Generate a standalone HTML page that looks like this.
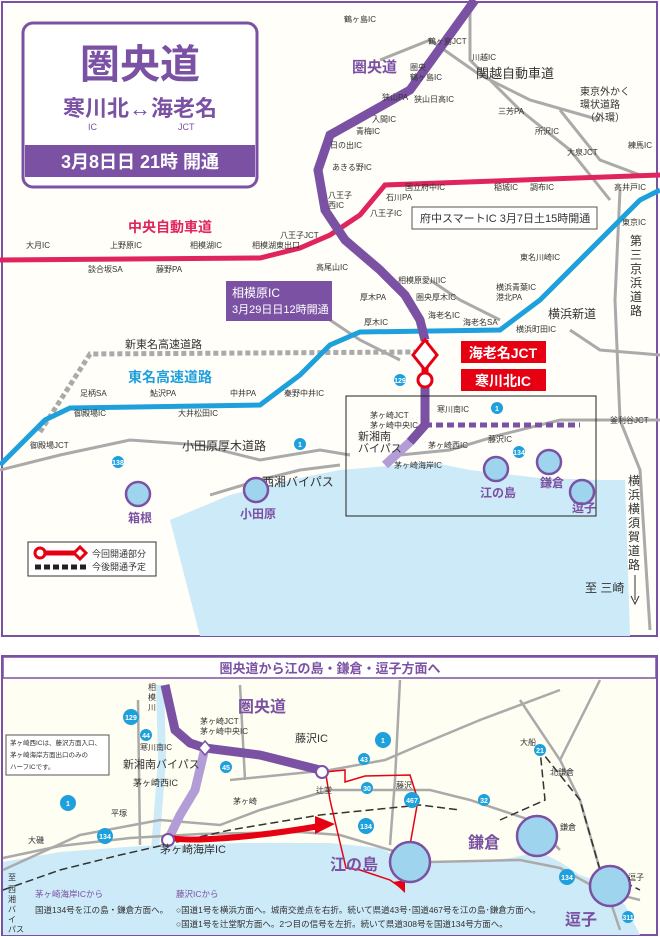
<!DOCTYPE html>
<html><head><meta charset="utf-8"><style>
body{margin:0;width:660px;height:937px;overflow:hidden;background:#fff}
svg{display:block}
text{font-family:"Liberation Sans","Noto Sans CJK JP",sans-serif}
</style></head><body>
<svg width="660" height="937" viewBox="0 0 660 937" xmlns="http://www.w3.org/2000/svg">
<rect width="660" height="937" fill="#fff"/>
<rect x="2" y="2" width="655" height="634" fill="#fffef8" stroke="#7b52a3" stroke-width="2"/>
<path d="M170,520 L230,495 L290,480 L340,470 L400,465 L430,462 L470,470 L540,478 L600,480 L625,480 L630,636 L200,636 Z" fill="#cdeaf8"/>
<g fill="none" stroke="#aaa" stroke-width="3">
<path d="M470,0 L470,60 L520,110 L570,150 L610,200"/>
<path d="M380,60 L430,40 L480,75 L530,100 L600,120"/>
<path d="M560,110 L600,160 L640,175"/>
<path d="M0,470 L60,455 L130,440 L200,445 L260,460 L320,450 L350,455"/>
<path d="M400,455 L450,450 L500,435 L560,420 L660,420"/>
<path d="M210,495 L260,480 L300,470 L340,465"/>
<path d="M620,190 L615,300 L620,420 L640,470 L650,630"/>
<path d="M570,330 L600,350 L660,355"/>
<path d="M430,280 L460,300 L500,320"/>
<path d="M330,320 L360,340 L400,360"/>
</g>
<path d="M40,432 L90,354 L415,352" fill="none" stroke="#aaa" stroke-width="5" stroke-dasharray="5,3"/>
<path d="M0,260 L260,258 L300,248 L330,235 L360,215 L385,185 L660,175" fill="none" stroke="#e0245e" stroke-width="5"/>
<path d="M0,465 L45,420 L70,408 L260,405 L300,375 L330,345 L360,332 L500,330 L540,300 L600,240 L640,200 L660,190" fill="none" stroke="#1ea0dc" stroke-width="5"/>
<path d="M475,0 L410,90 L330,135 L318,170 L325,210 L345,240 L380,270 L405,295 L420,320 L425,340" fill="none" stroke="#7b52a3" stroke-width="9"/>
<path d="M425,340 L425,385" fill="none" stroke="#e60012" stroke-width="7"/>
<path d="M425,385 L425,425 L410,442" fill="none" stroke="#7b52a3" stroke-width="9"/>
<path d="M410,442 L385,465" fill="none" stroke="#b39dd6" stroke-width="9"/>
<path d="M425,425 L470,425 L580,425" fill="none" stroke="#7b52a3" stroke-width="5" stroke-dasharray="7,4"/>
<path d="M425,340 L437,355 L425,370 L413,355 Z" fill="#fff" stroke="#e60012" stroke-width="3"/>
<circle cx="425" cy="380" r="7" fill="#fff" stroke="#e60012" stroke-width="3"/>
<rect x="346" y="396" width="250" height="120" fill="none" stroke="#222" stroke-width="1"/>
<rect x="461" y="341" width="85" height="22" fill="#e60012"/>
<text x="503" y="358" font-size="14" fill="#fff" text-anchor="middle" font-weight="bold">海老名JCT</text>
<rect x="461" y="369" width="85" height="22" fill="#e60012"/>
<text x="503" y="386" font-size="14" fill="#fff" text-anchor="middle" font-weight="bold">寒川北IC</text>
<rect x="226" y="281" width="106" height="40" fill="#7b52a3"/>
<text x="232" y="297" font-size="12" fill="#fff">相模原IC</text>
<text x="232" y="313" font-size="11" fill="#fff">3月29日日12時開通</text>
<rect x="412" y="207" width="185" height="22" fill="#fff" stroke="#555"/>
<text x="420" y="222" font-size="11" fill="#333">府中スマートIC 3月7日土15時開通</text>
<text x="128" y="232" font-size="14" fill="#e0245e" font-weight="bold">中央自動車道</text>
<text x="128" y="382" font-size="14" fill="#1ea0dc" font-weight="bold">東名高速道路</text>
<text x="125" y="348" font-size="11" fill="#333">新東名高速道路</text>
<text x="352" y="72" font-size="15" fill="#7b52a3" font-weight="bold">圏央道</text>
<text x="476" y="78" font-size="13" fill="#333">関越自動車道</text>
<text x="580" y="95" font-size="10" fill="#333">東京外かく</text>
<text x="580" y="108" font-size="10" fill="#333">環状道路</text>
<text x="585" y="121" font-size="10" fill="#333">（外環）</text>
<text x="548" y="318" font-size="12" fill="#333">横浜新道</text>
<text x="182" y="450" font-size="12" fill="#333">小田原厚木道路</text>
<text x="262" y="486" font-size="12" fill="#333">西湘バイパス</text>
<text x="358" y="440" font-size="11" fill="#333">新湘南</text>
<text x="358" y="452" font-size="11" fill="#333">バイパス</text>
<g font-size="8" fill="#333">
<text x="344" y="22">鶴ヶ島IC</text><text x="428" y="44">鶴ヶ島JCT</text><text x="472" y="60">川越IC</text>
<text x="410" y="70">圏央</text><text x="410" y="80">鶴ヶ島IC</text><text x="382" y="100">狭山PA</text><text x="414" y="102">狭山日高IC</text>
<text x="372" y="122">入間IC</text><text x="356" y="134">青梅IC</text><text x="330" y="148">日の出IC</text><text x="332" y="170">あきる野IC</text>
<text x="498" y="114">三芳PA</text><text x="535" y="134">所沢IC</text><text x="567" y="155">大泉JCT</text><text x="628" y="148">練馬IC</text>
<text x="405" y="190">国立府中IC</text><text x="494" y="190">稲城IC</text><text x="530" y="190">調布IC</text><text x="614" y="190">高井戸IC</text>
<text x="328" y="198">八王子</text><text x="328" y="208">西IC</text><text x="386" y="200">石川PA</text><text x="370" y="216">八王子IC</text>
<text x="280" y="238">八王子JCT</text><text x="252" y="248">相模湖東出口</text><text x="190" y="248">相模湖IC</text><text x="110" y="248">上野原IC</text>
<text x="26" y="248">大月IC</text><text x="88" y="272">談合坂SA</text><text x="156" y="272">藤野PA</text><text x="316" y="270">高尾山IC</text>
<text x="398" y="283">相模原愛川IC</text><text x="416" y="300">圏央厚木IC</text><text x="360" y="300">厚木PA</text><text x="428" y="318">海老名IC</text>
<text x="463" y="325">海老名SA</text><text x="520" y="260">東名川崎IC</text><text x="496" y="290">横浜青葉IC</text><text x="496" y="300">港北PA</text>
<text x="516" y="332">横浜町田IC</text><text x="622" y="225">東京IC</text><text x="364" y="325">厚木IC</text><text x="284" y="396">秦野中井IC</text>
<text x="230" y="396">中井PA</text><text x="150" y="396">鮎沢PA</text><text x="80" y="396">足柄SA</text><text x="74" y="416">御殿場IC</text>
<text x="178" y="416">大井松田IC</text><text x="30" y="448">御殿場JCT</text><text x="370" y="418">茅ヶ崎JCT</text><text x="370" y="428">茅ヶ崎中央IC</text>
<text x="437" y="412">寒川南IC</text><text x="428" y="448">茅ヶ崎西IC</text><text x="394" y="468">茅ヶ崎海岸IC</text><text x="488" y="442">藤沢IC</text>
<text x="610" y="423">釜利谷JCT</text>
</g>
<g font-size="12" fill="#333"><text x="630" y="245">第</text><text x="630" y="259">三</text><text x="630" y="273">京</text><text x="630" y="287">浜</text><text x="630" y="301">道</text><text x="630" y="315">路</text>
<text x="628" y="485">横</text><text x="628" y="499">浜</text><text x="628" y="513">横</text><text x="628" y="527">須</text><text x="628" y="541">賀</text><text x="628" y="555">道</text><text x="628" y="569">路</text>
<text x="585" y="592">至 三崎</text></g>
<path d="M635,575 L635,600 M631,596 L635,604 L639,596" stroke="#333" fill="none"/>
<g fill="#9fd4ee" stroke="#7b52a3" stroke-width="2.5">
<circle cx="138" cy="494" r="12"/><circle cx="256" cy="490" r="12"/><circle cx="496" cy="469" r="12"/><circle cx="549" cy="462" r="12"/><circle cx="582" cy="492" r="12"/>
</g>
<g font-size="12" fill="#7b52a3" font-weight="bold">
<text x="128" y="522">箱根</text><text x="240" y="518">小田原</text><text x="480" y="497">江の島</text><text x="540" y="487">鎌倉</text><text x="572" y="512">逗子</text></g>
<rect x="28" y="542" width="128" height="34" fill="#fff" stroke="#333"/>
<path d="M40,553 L80,553" stroke="#e60012" stroke-width="5"/><circle cx="40" cy="553" r="5" fill="#fff" stroke="#e60012" stroke-width="3"/>
<path d="M80,547 L86,553 L80,559 L74,553 Z" fill="#fff" stroke="#e60012" stroke-width="3"/>
<path d="M35,567 L86,567" stroke="#222" stroke-width="5" stroke-dasharray="6,3"/>
<text x="92" y="557" font-size="9" fill="#333">今回開通部分</text><text x="92" y="570" font-size="9" fill="#333">今後開通予定</text>
<rect x="23" y="23" width="234" height="164" rx="10" fill="#fff" stroke="#7b52a3" stroke-width="3"/>
<text x="140" y="78" font-size="40" fill="#7b52a3" text-anchor="middle" font-weight="bold">圏央道</text>
<text x="140" y="116" font-size="22" fill="#7b52a3" text-anchor="middle" font-weight="bold">寒川北↔海老名</text>
<text x="88" y="130" font-size="9" fill="#7b52a3">IC</text><text x="178" y="130" font-size="9" fill="#7b52a3">JCT</text>
<rect x="25" y="145" width="230" height="32" fill="#7b52a3"/>
<text x="140" y="168" font-size="18" fill="#fff" text-anchor="middle" font-weight="bold">3月8日日 21時 開通</text>

<rect x="2" y="656" width="655" height="279" fill="#fffef2" stroke="#7b52a3" stroke-width="2"/>
<rect x="3" y="657" width="653" height="21" fill="#fff" stroke="#7b52a3" stroke-width="1.5"/>
<text x="330" y="673" font-size="13" fill="#7b52a3" text-anchor="middle" font-weight="bold">圏央道から江の島・鎌倉・逗子方面へ</text>
<path d="M3,862 L60,852 L140,846 L240,843 L330,843 L380,848 L400,858 L430,862 L470,862 L510,858 L540,852 L560,862 L580,875 L600,882 L625,905 L640,935 L3,935 Z" fill="#cdeaf8"/>
<path d="M160,685 L162,760 L155,850" stroke="#cdeaf8" stroke-width="8" fill="none"/>
<g fill="none" stroke="#aaa" stroke-width="2.5">
<path d="M3,858 L60,846 L130,838 L200,834 L300,832 L340,835 L390,850 L430,862 L520,860 L560,868 L600,890 L640,900"/>
<path d="M3,870 L80,835 L160,820 L220,825 L260,810 L330,790 L430,790 L470,800 L530,820 L560,850"/>
<path d="M240,685 L245,780 M138,700 L140,845 M400,680 L395,780 L390,845"/>
<path d="M230,780 L330,770 L385,760 L420,745 L480,720 L560,690"/>
<path d="M520,700 L560,760 L580,800 L600,870 L620,930"/>
<path d="M600,680 L560,760"/>
</g>
<path d="M3,890 L60,870 L120,855 L230,830 L320,815 L420,805 L460,810 M500,820 L545,800 L540,750 L580,800 L600,870 L640,890" fill="none" stroke="#333" stroke-width="1.5" stroke-dasharray="8,4"/>
<path d="M165,685 L175,730 L190,743 L205,748 L260,755 L320,770" fill="none" stroke="#7b52a3" stroke-width="9"/>
<path d="M205,748 L195,790 L180,815 L168,840" fill="none" stroke="#b39dd6" stroke-width="9"/>
<path d="M172,838 C190,842 250,838 320,826" fill="none" stroke="#e60012" stroke-width="6"/>
<path d="M315,816 L335,824 L315,834 Z" fill="#e60012"/>
<path d="M325,772 L345,770 L345,782 L365,776 L410,775 L418,800 L410,845 M410,845 L410,855" fill="none" stroke="#e60012" stroke-width="1.5"/>
<path d="M405,850 L415,850 L410,860 Z" fill="#e60012"/>
<path d="M326,775 L330,800 L346,868 L360,870 L390,880 L400,887" fill="none" stroke="#e60012" stroke-width="1.5"/>
<path d="M393,882 L405,893 L405,880 Z" fill="#e60012"/>
<circle cx="322" cy="772" r="6" fill="#fff" stroke="#7b52a3" stroke-width="2"/>
<circle cx="168" cy="840" r="6" fill="#fff" stroke="#7b52a3" stroke-width="2"/>
<path d="M205,741 L211,748 L205,755 L199,748 Z" fill="#fff" stroke="#7b52a3" stroke-width="1.5"/>
<g fill="#9fd4ee" stroke="#7b52a3" stroke-width="2.5">
<circle cx="410" cy="862" r="20"/><circle cx="537" cy="836" r="20"/><circle cx="610" cy="886" r="20"/></g>
<g font-size="16" fill="#7b52a3" font-weight="bold"><text x="238" y="712">圏央道</text>
<text x="330" y="870">江の島</text><text x="468" y="848">鎌倉</text><text x="565" y="925">逗子</text></g>
<g font-size="11" fill="#333"><text x="295" y="742">藤沢IC</text><text x="160" y="853">茅ヶ崎海岸IC</text><text x="123" y="768">新湘南バイパス</text></g>
<g font-size="8" fill="#333"><text x="200" y="724">茅ヶ崎JCT</text><text x="200" y="734">茅ヶ崎中央IC</text><text x="140" y="750">寒川南IC</text><text x="133" y="786" font-size="9">茅ヶ崎西IC</text>
<text x="148" y="690">相</text><text x="148" y="700">模</text><text x="148" y="710">川</text><text x="316" y="793">辻堂</text><text x="396" y="788">藤沢</text><text x="233" y="804">茅ヶ崎</text>
<text x="111" y="816">平塚</text><text x="28" y="843">大磯</text><text x="520" y="745">大船</text><text x="550" y="775">北鎌倉</text><text x="560" y="830">鎌倉</text><text x="628" y="880">逗子</text>
<text x="8" y="880">至</text><text x="8" y="892">西</text><text x="8" y="902">湘</text><text x="8" y="912">バ</text><text x="8" y="922">イ</text><text x="8" y="932">パス</text></g>
<rect x="6" y="735" width="103" height="40" fill="#fff" stroke="#555"/>
<g font-size="6.5" fill="#333"><text x="10" y="745">茅ヶ崎西ICは、藤沢方面入口、</text><text x="10" y="757">茅ヶ崎海岸方面出口のみの</text><text x="10" y="769">ハーフICです。</text></g>
<g font-size="8.5"><text x="35" y="897" fill="#7b52a3">茅ヶ崎海岸ICから</text><text x="35" y="913" fill="#333">国道134号を江の島・鎌倉方面へ。</text>
<text x="176" y="897" fill="#7b52a3">藤沢ICから</text><text x="176" y="913" fill="#333">○国道1号を横浜方面へ。城南交差点を右折。続いて県道43号･国道467号を江の島･鎌倉方面へ。</text>
<text x="176" y="927" fill="#333">○国道1号を辻堂駅方面へ。2つ目の信号を左折。続いて県道308号を国道134号方面へ。</text></g>
<g fill="#1ea0dc"><circle cx="131" cy="717" r="8"/><circle cx="146" cy="735" r="6"/><circle cx="226" cy="767" r="6"/><circle cx="68" cy="803" r="8"/><circle cx="105" cy="836" r="8"/>
<circle cx="383" cy="740" r="8"/><circle cx="364" cy="759" r="6"/><circle cx="367" cy="788" r="6"/><circle cx="412" cy="800" r="8"/><circle cx="484" cy="800" r="6"/><circle cx="540" cy="750" r="6"/><circle cx="366" cy="826" r="8"/><circle cx="567" cy="877" r="8"/><circle cx="628" cy="917" r="6"/>
<circle cx="400" cy="380" r="6"/><circle cx="497" cy="408" r="6"/><circle cx="300" cy="444" r="6"/><circle cx="519" cy="452" r="6"/><circle cx="118" cy="462" r="6"/></g>
<g font-size="7" fill="#fff" text-anchor="middle" font-weight="bold"><text x="131" y="720">129</text><text x="146" y="738">44</text><text x="226" y="770">45</text><text x="68" y="806">1</text><text x="105" y="839">134</text>
<text x="383" y="743">1</text><text x="364" y="762">43</text><text x="367" y="791">30</text><text x="412" y="803">467</text><text x="484" y="803">32</text><text x="540" y="753">21</text><text x="366" y="829">134</text><text x="567" y="880">134</text><text x="628" y="920">311</text>
<text x="400" y="383">129</text><text x="497" y="411">1</text><text x="300" y="447">1</text><text x="519" y="455">134</text><text x="118" y="465">138</text></g>
</svg>
</body></html>
